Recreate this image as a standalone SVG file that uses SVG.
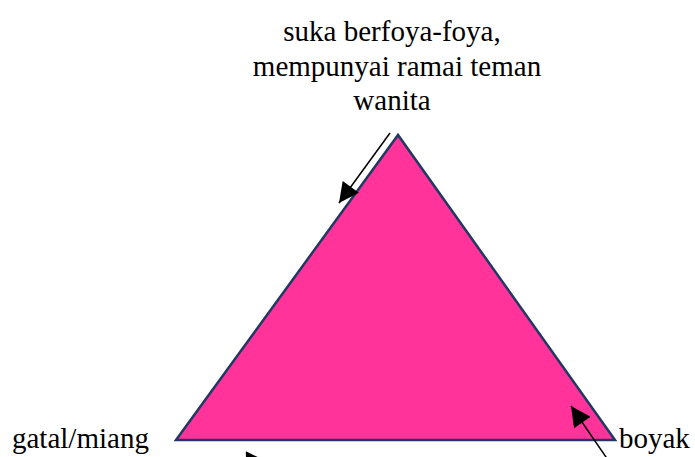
<svg xmlns="http://www.w3.org/2000/svg" width="695" height="457" viewBox="0 0 695 457">
<style>
text{font-family:"Liberation Serif","Times New Roman",serif;font-size:29px;fill:#000}
.c{stroke:#000;stroke-width:1.5;fill:none}
</style>
<defs>
<marker id="ah2" viewBox="0 0 10 10" refX="10" refY="5" markerWidth="22" markerHeight="20" orient="auto" markerUnits="userSpaceOnUse">
<path d="M0,0 L10,5 L0,10 Z" fill="#000"/>
</marker>
</defs>
<g id="triangle">
<polygon points="398,135 176,440 615,440" fill="#FF3399" stroke="#1F3864" stroke-width="2.5"/>
</g>
<g id="top-label">
<text x="392" y="41" text-anchor="middle">suka berfoya-foya,</text>
<text x="397" y="76" text-anchor="middle">mempunyai ramai teman</text>
<text x="392" y="110" text-anchor="middle">wanita</text>
</g>
<g id="left-label"><text x="12" y="448">gatal/miang</text></g>
<g id="right-label"><text x="619" y="448">boyak</text></g>
<g id="connectors">
<line class="c" x1="390" y1="133" x2="339" y2="203" marker-end="url(#ah2)"/>
<line class="c" x1="608" y1="460" x2="571" y2="406" marker-end="url(#ah2)"/>
<line class="c" x1="200" y1="462" x2="266" y2="461" marker-end="url(#ah2)"/>
</g>
</svg>
